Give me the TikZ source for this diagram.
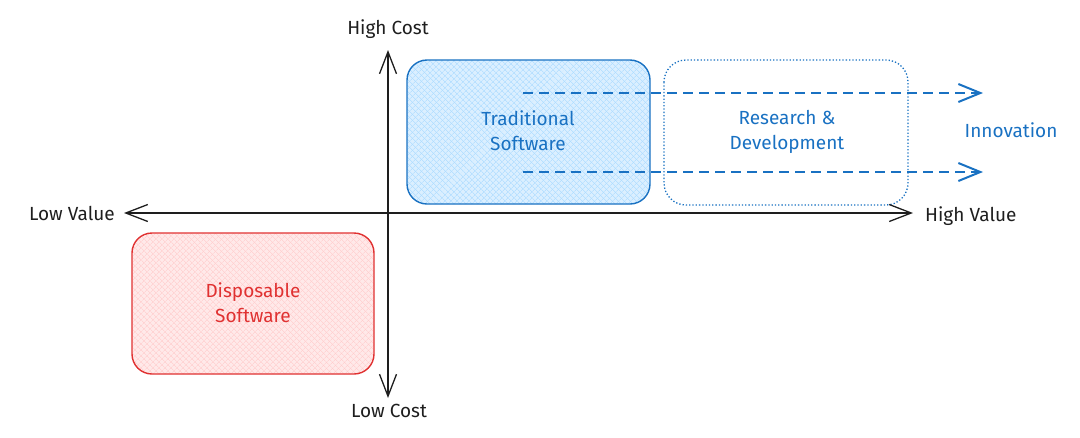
\documentclass[tikz,border=0pt]{standalone}
\usepackage{fontspec}
\setmainfont{Fira Sans}
\usetikzlibrary{arrows.meta,patterns.meta}
\definecolor{ink}{HTML}{1E1E1E}
\definecolor{bluec}{HTML}{1971C2}
\definecolor{bluefill}{HTML}{A5D8FF}
\definecolor{redc}{HTML}{E03131}
\definecolor{redfill}{HTML}{FFC9C9}
\tikzset{
  lbl/.style={font=\fontsize{19}{25}\selectfont, align=center, inner sep=0pt},
  axis/.style={draw=ink, line width=1.3pt, -{Straight Barb[length=22pt,width=17pt,line width=1.3pt]}},
  quad/.style={rounded corners=20pt, line width=1.4pt},
  dasharrow/.style={draw=bluec, line width=2pt, dash pattern=on 10pt off 6pt, -{Straight Barb[length=22pt,width=18pt,line width=2pt]}},
}
\newcommand{\hatchbox}[6]{%
  \fill[#5, rounded corners=20pt, opacity=0.4] (#1,#2) rectangle (#3,#4);
  \fill[pattern={Lines[angle=45,distance=4pt,line width=0.5pt]}, pattern color=#5, rounded corners=20pt] (#1,#2) rectangle (#3,#4);
  \fill[pattern={Lines[angle=-45,distance=4pt,line width=0.5pt]}, pattern color=#5, rounded corners=20pt] (#1,#2) rectangle (#3,#4);
  \draw[#6, quad] (#1,#2) rectangle (#3,#4);
}
\begin{document}
\begin{tikzpicture}[x=1pt,y=-1pt]
\useasboundingbox (0,0) rectangle (1080,437);
% boxes
\hatchbox{407}{60}{650}{204}{bluefill}{bluec}
\node[lbl, text=bluec] (trad) at (528,131) {Traditional\\Software};
\draw[bluec, line width=1.3pt, dotted, rounded corners=22pt] (664,60) rectangle (908,205);
\node[lbl, text=bluec] (rd) at (787,132) {Research \&\\Development};
\hatchbox{132}{233}{374}{374}{redfill}{redc}
\node[lbl, text=redc] (disp) at (253,303) {Disposable\\Software};
% dashed arrows
\coordinate (a1s) at (523,93);
\coordinate (a1e) at (983,93);
\coordinate (a2s) at (523,172);
\coordinate (a2e) at (983,172);
\draw[dasharrow] (a1s) -- (a1e);
\draw[dasharrow] (a2s) -- (a2e);
\node[lbl, text=bluec] (innov) at (1011,130) {Innovation};
% axes
\coordinate (yc) at (388,213);
\node[lbl, text=ink] (hc) at (388,29) {High Cost};
\node[lbl, text=ink] (lc) at (389,411) {Low Cost};
\node[lbl, text=ink, anchor=east] (lv) at (115,213) {Low Value};
\node[lbl, text=ink, anchor=west] (hv) at (925,216) {High Value};
\coordinate (top) at (388,50);
\coordinate (bot) at (388,398);
\coordinate (left) at (124,213);
\coordinate (right) at (913,213);
\draw[axis] (yc) -- (top);
\draw[axis] (yc) -- (bot);
\draw[axis] (yc) -- (left);
\draw[axis] (yc) -- (right);
\end{tikzpicture}
\end{document}
